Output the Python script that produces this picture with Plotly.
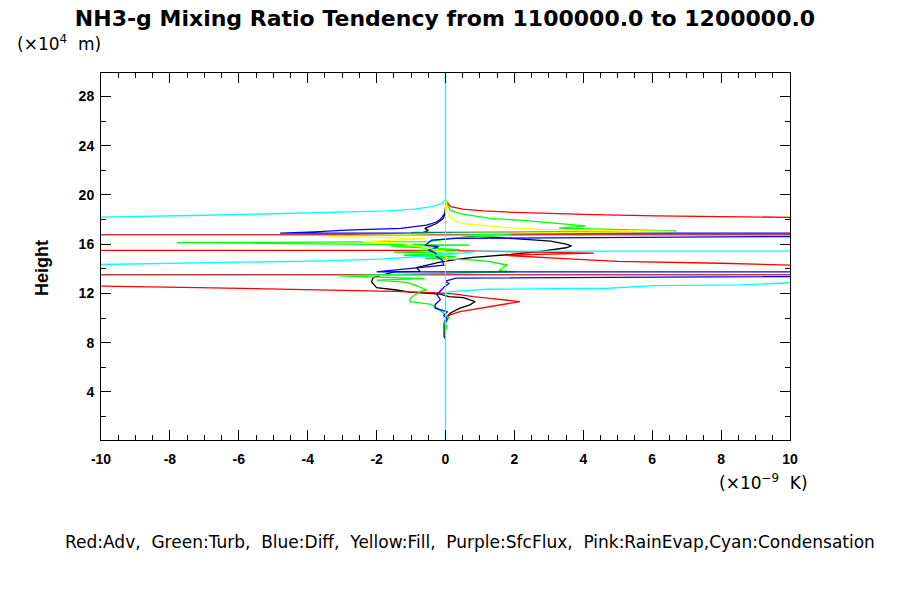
import plotly.graph_objects as go

# Heights (x10^4 m) and tendency values (x10^-9 K).
# Profiles are listed over the height span where they leave the zero line;
# outside it they lie on x = 0 under the Condensation line.
Z_TOT = [8.3, 8.5, 9.6, 10.0, 10.4, 10.8, 11.07, 11.34, 11.66, 11.74, 11.94, 12.1, 12.28, 12.47,
         12.96, 13.28, 13.75, 13.8, 14.1, 14.3, 14.55, 14.77, 14.93, 15.17, 15.38, 15.71, 15.87, 16.0,
         16.25, 16.45, 16.7, 16.9, 17.1, 17.28, 17.68, 18.09, 18.5, 19.0]
TOT = [0, -0.04, -0.04, 0.02, 0.13, 0.42, 0.71, 0.86, 0.52, 0.1, -0.16, -1.03, -1.42, -2.0,
       -2.15, -2.1, -1.5, -0.74, -0.84, -0.5, -0.16, 0.33, 0.8, 1.9, 2.65, 3.5, 3.66, 3.5,
       3.05, 2.0, 0.6, -0.7, -0.5, -0.6, -0.26, -0.06, -0.02, 0]

Z_ADV = [9.9, 10.26, 10.53, 10.93, 11.34, 11.6, 11.74, 11.95, 12.05, 12.17, 12.3, 12.4, 12.48,
         12.6, 12.7, 13.0, 13.45, 13.6, 14.0, 14.3, 14.45, 14.6, 14.85, 15.1, 15.28, 15.5, 15.6,
         16.7, 16.85, 17.5, 18.0, 18.17, 18.22, 18.3, 18.4, 18.48, 18.58, 18.7, 18.85, 19.05,
         19.4, 19.55]
ADV = [0, 0.13, 0.42, 1.3, 2.16, 1.3, 0.8, 0.3, -0.2, -1.5, -3.5, -5.6, -7.2,
       -10, -13, -40, -200, 200, 30, 10, 8.0, 5.0, 3.3, 1.7, 4.3, -0.2, -200,
       -200, 200, 25, 16, 10, 8.5, 6.1, 4.3, 3.0, 2.0, 1.1, 0.5, 0.15,
       0.05, 0]

Z_TURB = [9.0, 9.3, 9.6, 10.0, 10.26, 10.85, 11.13, 11.34, 11.61, 12.15, 12.28, 12.63, 12.9,
          13.08, 13.2, 13.42, 13.68, 13.75, 13.85, 14.1, 14.31, 14.58, 14.72, 14.77, 14.85, 14.98,
          15.1, 15.25, 15.35, 15.55, 15.72, 15.85, 15.93, 16.0, 16.12, 16.2, 16.5, 16.75, 16.95,
          17.08, 17.3, 17.49, 17.76, 17.95, 18.09, 18.3, 18.49, 18.76, 19.3, 19.6]
TURB = [0, 0.05, -0.05, 0.1, 0, -0.26, -0.45, -1.03, -1.03, -0.74, -0.55, -0.84, -1.13,
        -2.0, -0.6, -3.1, 0.6, 2.0, 1.55, 1.68, 1.78, 1.29, 0.8, 0.33, -0.6, 0.3,
        -1.2, 0.4, -1.5, 0.4, -0.9, -1.6, 0.7, -3.7, -7.8, -0.5, 0.2, 1.9, -1.0,
        6.7, 3.3, 4.05, 3.03, 2.16, 1.29, 0.8, 0.42, 0.13, 0.04, 0]

Z_DIFF = [9.6, 9.9, 10.2, 10.5, 10.8, 11.1, 11.5, 11.9, 12.2, 12.5, 12.8, 13.0, 13.25, 13.36,
          13.5, 13.6, 13.75, 13.9, 14.17, 14.3, 14.72, 15.0, 15.3, 15.52, 15.8, 15.9, 16.1, 16.33,
          16.47, 16.62, 16.75, 16.9, 17.0, 17.14, 17.28, 17.55, 17.8, 18.0, 18.2, 18.6]
DIFF = [0, 0.05, -0.05, 0.05, -0.3, -0.3, -0.15, -0.25, -0.15, -0.05, 0.1, 0.0, 0.3, 4.2,
        20, 300, -2.0, -1.5, -0.6, -0.05, -0.1, -0.25, -0.3, -0.5, -0.2, -0.6, -0.5, -0.4,
        0.3, 9.5, 300, -4.8, -3.8, -2.9, -1.3, -0.55, -0.26, -0.16, -0.1, 0]

Z_FILL = [14.6, 14.9, 15.1, 15.35, 15.55, 15.8, 16.05, 16.2, 16.45, 16.65, 16.85, 17.04, 17.12,
          17.2, 17.36, 17.49, 17.68, 17.95, 18.62, 19.4, 19.6]
FILL = [0, 0.05, -0.1, 0.1, -0.3, -0.8, -1.2, -2.4, -0.6, -3.4, -0.2, 6.6, 4.5,
        2.74, 1.68, 1.1, 0.52, 0.23, 0.05, 0.02, 0]

Z_SFC = [0.1, 29.9]
SFC = [0, 0]
Z_RAIN = [0.1, 29.9]
RAIN = [0, 0]

Z_COND = [0.1, 12.0, 12.15, 12.34, 12.42, 12.63, 12.69, 12.87, 13.0, 13.2, 13.42, 13.52, 13.8, 14.1,
          14.35, 14.5, 14.65, 14.8, 14.95, 15.1, 15.25, 15.43, 15.5, 16.68, 16.75, 17.5, 18.1, 18.2,
          18.35, 18.45, 18.6, 18.7, 18.85, 19.05, 19.3, 19.6, 29.9]
COND = [0, 0, 0.15, 1.2, 4.7, 6.1, 8.55, 10, 20, 60, 200, -200, -50, -20,
        -10, -6.5, -3.5, -1.8, -0.8, -0.2, 0.4, 1.0, 300, 200, -200, -40, -12, -9.5,
        -7.0, -5.3, -2.6, -1.7, -0.9, -0.4, -0.1, 0, 0]

XTICKS = [-10, -8, -6, -4, -2, 0, 2, 4, 6, 8, 10]
XTICK_TEXT = ["-10", "-8", "-6", "-4", "-2", "0", "2", "4", "6", "8", "10"]
YTICKS = [4, 8, 12, 16, 20, 24, 28]

series = [
    (Z_TOT, TOT, "#000000", 1.3),
    (Z_ADV, ADV, "#FF0000", 1.3),
    (Z_TURB, TURB, "#00FF00", 1.3),
    (Z_DIFF, DIFF, "#0000FF", 1.3),
    (Z_FILL, FILL, "#FFFF00", 1.3),
    (Z_SFC, SFC, "#A020F0", 0.5),
    (Z_RAIN, RAIN, "#F0B0E0", 1),
    (Z_COND, COND, "#00FFFF", 1.3),
]

fig = go.Figure()
for z, v, c, w in series:
    fig.add_trace(go.Scatter(x=v, y=z, mode="lines", line=dict(color=c, width=w),
                             showlegend=False, hoverinfo="skip"))

# page offset of the figure inside the browser window (body margin)
OFF = 8
FONT = "Liberation Sans"
WIDE = "DejaVu Sans"
fig.update_layout(
    width=900, height=600,
    margin=dict(l=101 - OFF, r=900 - 790 + OFF, t=73 - OFF, b=600 - 440 + OFF, autoexpand=False),
    paper_bgcolor="white", plot_bgcolor="white",
    title=dict(text="<b>NH3-g Mixing Ratio Tendency from 1100000.0 to 1200000.0</b>",
               x=(445 - OFF) / 900, xanchor="center", y=1 - (18 - OFF) / 600, yanchor="middle",
               font=dict(family=WIDE, size=22, color="black")),
)
axis_common = dict(showgrid=False, zeroline=False, showline=True, linecolor="black", linewidth=1,
                   mirror="ticks", ticks="inside", ticklen=10, tickcolor="black", tickwidth=1)
fig.update_xaxes(range=[-10, 10], tickmode="array", tickvals=XTICKS, ticktext=XTICK_TEXT,
                 tickfont=dict(family=FONT, size=14, color="black", weight="bold"),
                 ticklabelstandoff=6,
                 minor=dict(dtick=0.5, tick0=0, ticks="inside", ticklen=5, tickcolor="black"),
                 **axis_common)
fig.update_yaxes(range=[0.1, 29.9], tickmode="array", tickvals=YTICKS,
                 tickfont=dict(family=FONT, size=14, color="black", weight="bold"),
                 ticklabelstandoff=3,
                 minor=dict(dtick=2, tick0=0, ticks="inside", ticklen=5, tickcolor="black"),
                 **axis_common)

annots = [
    dict(text="(×10<sup>4</sup>  m)", x=15, y=43, xanchor="left", size=17),
    dict(text="(×10<sup>−9</sup>  K)", x=717, y=482, xanchor="left", size=17),
    dict(text="Red:Adv,\u00a0 Green:Turb,\u00a0 Blue:Diff,\u00a0 Yellow:Fill,\u00a0 Purple:SfcFlux,\u00a0 "
              "Pink:RainEvap,Cyan:Condensation",
         x=470, y=542, xanchor="center", size=17),
]
for a in annots:
    fig.add_annotation(text=a["text"], xref="paper", yref="paper",
                       x=(a["x"] - 101) / 689, y=(440 - a["y"]) / 367,
                       xanchor=a["xanchor"], yanchor="middle", showarrow=False,
                       font=dict(family=WIDE, size=a["size"], color="black"))
fig.add_annotation(text="<b>Height</b>", xref="paper", yref="paper",
                   x=(42 - 101) / 689, y=(440 - 268) / 367, xanchor="center", yanchor="middle",
                   textangle=-90, showarrow=False, font=dict(family=FONT, size=18, color="black"))

fig.write_html("out.html")
